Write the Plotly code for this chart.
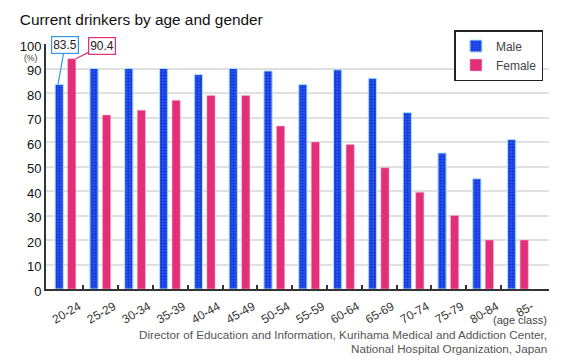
import plotly.graph_objects as go

age_classes = ["20-24", "25-29", "30-34", "35-39", "40-44", "45-49", "50-54",
               "55-59", "60-64", "65-69", "70-74", "75-79", "80-84", "85-"]
male = [83.5, 90, 90, 90, 87.5, 90, 89, 83.5, 89.5, 86, 72, 55.5, 45, 61]
female = [94, 71, 73, 77, 79, 79, 66.5, 60, 59, 49.5, 39.5, 30, 20, 20]
callout_labels = ["83.5", "90.4"]
y_ticks = [0, 10, 20, 30, 40, 50, 60, 70, 80, 90, 100]

idx = list(range(len(age_classes)))
boundaries = [i + 0.5 for i in idx[:-1]]

FONT = "Liberation Sans, Arial, sans-serif"
FEMALE_C = "#e32f78"

fig = go.Figure()
fig.add_trace(go.Bar(
    x=idx, y=male, name="Male", width=0.235, offset=-0.31,
    marker=dict(color="#0a1ed0", line=dict(color="#a8e4ff", width=1),
                pattern=dict(shape=".", fgcolor="#0008c0", bgcolor="#2c5cf0",
                             size=3, solidity=0.5)),
))
fig.add_trace(go.Bar(
    x=idx, y=female, name="Female", width=0.235, offset=0.05,
    marker=dict(color=FEMALE_C, line=dict(color="#f7b6d0", width=0.5)),
))

fig.add_annotation(x=idx[0] - 0.227, y=male[0], text=callout_labels[0],
                   showarrow=True, arrowhead=0, arrowwidth=1.2, arrowcolor="#3399ee",
                   ax=7, ay=-39.5, bordercolor="#3399ee", borderwidth=1.2, borderpad=1,
                   bgcolor="white", font=dict(family=FONT, size=12, color="#222"))
fig.add_annotation(x=idx[0] + 0.285, y=female[0], text=callout_labels[1],
                   showarrow=True, arrowhead=0, arrowwidth=1.2, arrowcolor=FEMALE_C,
                   ax=26, ay=-13, bordercolor=FEMALE_C, borderwidth=1.2, borderpad=1,
                   bgcolor="white", font=dict(family=FONT, size=12, color="#222"))

fig.add_annotation(xref="paper", yref="paper", x=-0.014, y=0.944, text="(%)",
                   showarrow=False, xanchor="right", yanchor="middle",
                   font=dict(family=FONT, size=8.5, color="#333"))
fig.add_annotation(xref="paper", yref="paper", x=1.0, y=-0.128, text="(age class)",
                   showarrow=False, xanchor="right", yanchor="middle",
                   font=dict(family=FONT, size=11, color="#444"))
fig.add_annotation(xref="paper", yref="paper", x=1.0, y=-0.185,
                   text="Director of Education and Information, Kurihama Medical and Addiction Center,",
                   showarrow=False, xanchor="right", yanchor="middle",
                   font=dict(family=FONT, size=11.7, color="#555"))
fig.add_annotation(xref="paper", yref="paper", x=1.0, y=-0.242,
                   text="National Hospital Organization, Japan",
                   showarrow=False, xanchor="right", yanchor="middle",
                   font=dict(family=FONT, size=11.7, color="#555"))

fig.update_layout(
    width=565, height=360,
    margin=dict(l=46, r=16, t=44, b=70.5, autoexpand=False),
    paper_bgcolor="white", plot_bgcolor="white",
    barmode="group",
    title=dict(text="Current drinkers by age and gender", x=0.035, xanchor="left",
               y=1 - 20 / 360, yanchor="middle",
               font=dict(family=FONT, size=15.4, color="#111")),
    font=dict(family=FONT, size=12, color="#333"),
    legend=dict(x=0.812, y=1.057, xanchor="left", yanchor="top",
                bgcolor="white", bordercolor="#222", borderwidth=1.5,
                font=dict(family=FONT, size=12, color="#444"),
                tracegroupgap=4),
    showlegend=True,
    xaxis=dict(range=[-0.572, 13.88], tickmode="array", tickvals=idx, ticktext=age_classes,
               tickangle=-30, ticks="", showgrid=False, zeroline=False, automargin=False,
               showline=True, linecolor="#333", linewidth=2,
               ticklabelshift=13, ticklabelstandoff=4,
               tickfont=dict(family=FONT, size=12, color="#333"),
               minor=dict(tickmode="array", tickvals=boundaries, ticks="inside",
                          ticklen=4, tickwidth=1.5, tickcolor="#333", showgrid=False)),
    yaxis=dict(range=[0, 100], tickmode="array", tickvals=y_ticks, automargin=False,
               showgrid=True, gridcolor="#e0e0e0", gridwidth=1.5, zeroline=False,
               showline=True, linecolor="#333", linewidth=2, ticks="",
               ticklabelshift=2,
               tickfont=dict(family=FONT, size=13, color="#111")),
)

fig.write_html("out.html", config={"displayModeBar": False},
               post_script="document.body.style.margin='0';document.body.style.padding='0';")
